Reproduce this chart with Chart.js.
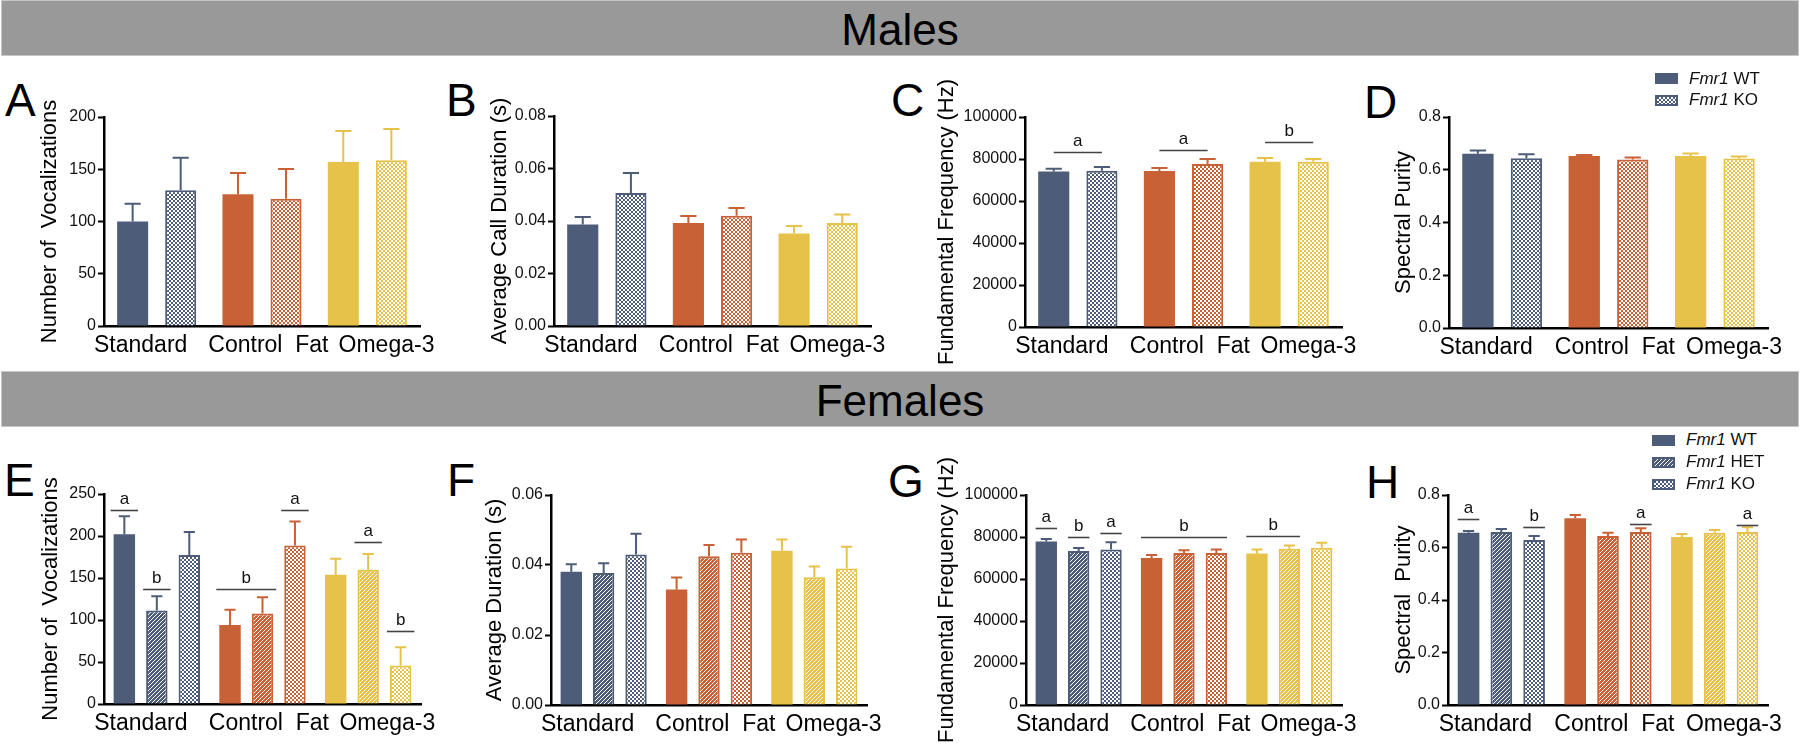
<!DOCTYPE html>
<html>
<head>
<meta charset="utf-8">
<script src="https://cdn.jsdelivr.net/npm/chart.js@4.4.1/dist/chart.umd.min.js"></script>
<style>
  body { margin: 0; background: #fff; font-family: "Liberation Sans", Arial, sans-serif; }
  #fig { position: relative; width: 1800px; height: 744px; overflow: hidden; background: #fff; }
  .banner { position: absolute; left: 1px; width: 1796px; height: 54px; background: #999;
            border: 1px solid #c6c6c6; text-align: center; font-size: 44px; line-height: 58px; color: #000; }
  .letter { position: absolute; font-size: 46px; line-height: 46px; color: #000; }
  canvas.panel { position: absolute; }
  .leg { position: absolute; font-size: 17px; line-height: 20px; color: #111; white-space: nowrap; }
  .sw { position: absolute; }
</style>
</head>
<body>
<div id="fig">
  <div class="banner" style="top:0">Males</div>
  <div class="banner" style="top:371px">Females</div>
  <div class="letter" style="left:5px;top:77px">A</div>
  <div class="letter" style="left:446px;top:77px">B</div>
  <div class="letter" style="left:891px;top:77px">C</div>
  <div class="letter" style="left:1364px;top:79px">D</div>
  <div class="letter" style="left:4px;top:457px">E</div>
  <div class="letter" style="left:447px;top:457px">F</div>
  <div class="letter" style="left:888px;top:458px">G</div>
  <div class="letter" style="left:1366px;top:459px">H</div>
</div>
<script>
const diets = ['Standard', 'Control  Fat', 'Omega-3'];

// Males, Fmr1 WT and KO: mean and SEM for each diet
const mVocWT = [100, 126, 157],          mVocWTSem = [17, 20.5, 29.6];
const mVocKO = [130, 121.7, 158.6],      mVocKOSem = [31, 28.6, 29.9];
const mDurWT = [0.0387, 0.0392, 0.0352], mDurWTSem = [0.0028, 0.0027, 0.0029];
const mDurKO = [0.0507, 0.0420, 0.0392], mDurKOSem = [0.0076, 0.0030, 0.0033];
const mFreqWT = [74000, 74300, 78700],   mFreqWTSem = [1400, 1400, 1800];
const mFreqKO = [74400, 77600, 78700],   mFreqKOSem = [1800, 2400, 1300];
const mPurWT = [0.6605, 0.652, 0.652],   mPurWTSem = [0.0125, 0.004, 0.010];
const mPurKO = [0.644, 0.639, 0.643],    mPurKOSem = [0.015, 0.0076, 0.007];

// Females, Fmr1 WT, HET and KO
const fVocWT = [202, 94, 154],           fVocWTSem = [21.4, 18.1, 19];
const fVocHET = [111.3, 107.7, 159.8],   fVocHETSem = [17.1, 19.5, 18.7];
const fVocKO = [177.3, 188.8, 45.7],     fVocKOSem = [27.4, 28.6, 21.9];
const fDurWT = [0.0381, 0.0330, 0.0441], fDurWTSem = [0.0021, 0.0034, 0.0032];
const fDurHET = [0.0377, 0.0425, 0.0365], fDurHETSem = [0.0028, 0.0032, 0.0031];
const fDurKO = [0.0430, 0.0435, 0.0390], fDurKOSem = [0.0059, 0.0038, 0.0062];
const fFreqWT = [77800, 70000, 72100],   fFreqWTSem = [1200, 1400, 1900];
const fFreqHET = [73300, 72400, 74400],  fFreqHETSem = [1500, 1300, 1600];
const fFreqKO = [74100, 72400, 74900],   fFreqKOSem = [3400, 1600, 2400];
const fPurWT = [0.6565, 0.7111, 0.640],  fPurWTSem = [0.0065, 0.0127, 0.0114];
const fPurHET = [0.659, 0.6438, 0.6565], fPurHETSem = [0.0115, 0.0127, 0.0102];
const fPurKO = [0.6286, 0.659, 0.659],   fPurKOSem = [0.0152, 0.014, 0.0178];

// significance letters: [diet, first genotype, last genotype, height, letter]
const mFreqSig = [[0, 0, 1, 83300, 'a'], [1, 0, 1, 84300, 'a'], [2, 0, 1, 88100, 'b']];
const fVocSig = [[0, 0, 0, 230.5, 'a'], [0, 1, 1, 137, 'b'], [1, 0, 1, 137, 'b'],
                 [1, 2, 2, 230.5, 'a'], [2, 1, 1, 193, 'a'], [2, 2, 2, 87.4, 'b']];
const fFreqSig = [[0, 0, 0, 84100, 'a'], [0, 1, 1, 80000, 'b'], [0, 2, 2, 81700, 'a'],
                  [1, 0, 2, 80000, 'b'], [2, 0, 1, 80600, 'b']];
const fPurSig = [[0, 0, 0, 0.7098, 'a'], [0, 2, 2, 0.6768, 'b'], [1, 2, 2, 0.6883, 'a'], [2, 2, 2, 0.6857, 'a']];

const dietColors = ['#4d5c78', '#c96136', '#e7c24a'];
// the diet names sit a little spread out from the bar groups: leading / trailing spaces
const labelNudge = [[0, 5], [2, 0], [6, 0]];

Chart.defaults.font.family = '"Liberation Sans", Arial, sans-serif';
Chart.defaults.color = '#111';

function checker(color) {
    const c = document.createElement('canvas');
    c.width = c.height = 4;
    const g = c.getContext('2d');
    g.fillStyle = '#fff';
    g.fillRect(0, 0, 4, 4);
    g.fillStyle = color;
    g.fillRect(0, 0, 2, 2);
    g.fillRect(2, 2, 2, 2);
    return g.createPattern(c, 'repeat');
}

function hatch(color) {
    const c = document.createElement('canvas');
    c.width = c.height = 4;
    const g = c.getContext('2d');
    g.fillStyle = color;
    g.fillRect(0, 0, 4, 4);
    g.strokeStyle = '#fff';
    g.lineWidth = 1;
    g.beginPath();
    g.moveTo(0, 4); g.lineTo(4, 0);
    g.moveTo(-1, 1); g.lineTo(1, -1);
    g.moveTo(3, 5); g.lineTo(5, 3);
    g.stroke();
    return g.createPattern(c, 'repeat');
}

function series(data, sem, kind) {
    return {
        data: data,
        sem: sem,
        backgroundColor: dietColors.map(c => kind === 'WT' ? c : kind === 'HET' ? hatch(c) : checker(c)),
        borderColor: dietColors,
        borderWidth: kind === 'WT' ? 0 : 2
    };
}

// error bars (upper whisker only) and significance letters
const extras = {
    id: 'extras',
    afterDatasetsDraw(chart, args, opts) {
        const ctx = chart.ctx;
        const y = chart.scales.y;
        ctx.save();
        chart.data.datasets.forEach((ds, i) => {
            chart.getDatasetMeta(i).data.forEach((bar, j) => {
                const top = y.getPixelForValue(ds.data[j] + ds.sem[j]);
                const cap = bar.width * 0.26;
                ctx.strokeStyle = dietColors[j];
                ctx.lineWidth = 2;
                ctx.beginPath();
                ctx.moveTo(bar.x, bar.y);
                ctx.lineTo(bar.x, top);
                ctx.moveTo(bar.x - cap, top);
                ctx.lineTo(bar.x + cap, top);
                ctx.stroke();
            });
        });
        (opts.sig || []).forEach(([cat, a, b, val, txt]) => {
            const b1 = chart.getDatasetMeta(a).data[cat];
            const b2 = chart.getDatasetMeta(b).data[cat];
            const x1 = opts.fromCenter ? b1.x : b1.x - b1.width / 2 - opts.ext;
            const x2 = opts.fromCenter ? b2.x : b2.x + b2.width / 2 + opts.ext;
            const py = Math.round(y.getPixelForValue(val)) + 0.5;
            ctx.strokeStyle = '#444';
            ctx.lineWidth = 1.6;
            ctx.beginPath();
            ctx.moveTo(x1, py);
            ctx.lineTo(x2, py);
            ctx.stroke();
            ctx.fillStyle = '#111';
            ctx.font = '17px "Liberation Sans", Arial, sans-serif';
            ctx.textAlign = 'center';
            ctx.textBaseline = 'alphabetic';
            ctx.fillText(txt, (x1 + x2) / 2, py - 7);
        });
        ctx.restore();
    }
};

const fig = document.getElementById('fig');
const PAD_RIGHT = 30;

function panel(p) {
    const box = p.box;
    const cv = document.createElement('canvas');
    cv.className = 'panel';
    const left = Math.round(box.titleX - 13);
    const top = box.top - 45;
    cv.width = box.right - left + PAD_RIGHT;
    cv.height = 45 + (box.bottom - box.top) + 46;
    cv.style.left = left + 'px';
    cv.style.top = top + 'px';
    fig.appendChild(cv);
    const yWidth = box.left - left;
    const three = p.datasets.length === 3;

    new Chart(cv.getContext('2d'), {
        type: 'bar',
        data: { labels: diets, datasets: p.datasets },
        plugins: [extras],
        options: {
            responsive: false,
            animation: false,
            events: [],
            layout: { padding: { left: 0, top: 45, right: PAD_RIGHT, bottom: 0 } },
            datasets: {
                bar: {
                    categoryPercentage: three ? 0.922 : 0.912,
                    barPercentage: three ? 0.66 : 0.646
                }
            },
            plugins: {
                legend: { display: false },
                tooltip: { enabled: false },
                extras: { sig: p.sig, ext: p.ext || 0, fromCenter: !!p.fromCenter }
            },
            scales: {
                x: {
                    grid: { display: false, drawTicks: false },
                    border: { color: '#000', width: 2.5 },
                    ticks: {
                        color: '#000', font: { size: 23 }, padding: 6,
                        autoSkip: false, maxRotation: 0, minRotation: 0,
                        callback: (v, i) => ' '.repeat(labelNudge[i][0]) + diets[i] + ' '.repeat(labelNudge[i][1])
                    },
                    afterFit: s => { s.height = 46; }
                },
                y: {
                    min: 0,
                    max: p.yMax,
                    grid: { drawOnChartArea: false, drawTicks: true, tickLength: 6, tickWidth: 2, tickColor: '#000' },
                    border: { color: '#000', width: 2.5 },
                    ticks: {
                        stepSize: p.yStep, color: '#111', font: { size: 16 }, padding: 2,
                        callback: v => v.toFixed(p.decimals)
                    },
                    title: {
                        display: true, text: p.title, color: '#000',
                        font: { size: 22 }, padding: { top: 0, bottom: 0 }
                    },
                    afterFit: s => { s.width = yWidth; }
                }
            }
        }
    });
}

panel({
    box: { left: 104, right: 420, top: 117, bottom: 326, titleX: 50 },
    datasets: [series(mVocWT, mVocWTSem, 'WT'), series(mVocKO, mVocKOSem, 'KO')],
    yMax: 200, yStep: 50, decimals: 0, title: 'Number of  Vocalizations'
});
panel({
    box: { left: 554, right: 871, top: 116, bottom: 326, titleX: 500 },
    datasets: [series(mDurWT, mDurWTSem, 'WT'), series(mDurKO, mDurKOSem, 'KO')],
    yMax: 0.08, yStep: 0.02, decimals: 2, title: 'Average Call Duration (s)'
});
panel({
    box: { left: 1025, right: 1342, top: 117, bottom: 327, titleX: 947 },
    datasets: [series(mFreqWT, mFreqWTSem, 'WT'), series(mFreqKO, mFreqKOSem, 'KO')],
    yMax: 100000, yStep: 20000, decimals: 0, title: 'Fundamental Frequency (Hz)',
    sig: mFreqSig, fromCenter: true
});
panel({
    box: { left: 1449, right: 1768, top: 117, bottom: 328, titleX: 1404 },
    datasets: [series(mPurWT, mPurWTSem, 'WT'), series(mPurKO, mPurKOSem, 'KO')],
    yMax: 0.8, yStep: 0.2, decimals: 1, title: 'Spectral Purity'
});
panel({
    box: { left: 104, right: 421, top: 494, bottom: 704, titleX: 51 },
    datasets: [series(fVocWT, fVocWTSem, 'WT'), series(fVocHET, fVocHETSem, 'HET'), series(fVocKO, fVocKOSem, 'KO')],
    yMax: 250, yStep: 50, decimals: 0, title: 'Number of  Vocalizations',
    sig: fVocSig, ext: 3
});
panel({
    box: { left: 551, right: 867, top: 495, bottom: 705, titleX: 495 },
    datasets: [series(fDurWT, fDurWTSem, 'WT'), series(fDurHET, fDurHETSem, 'HET'), series(fDurKO, fDurKOSem, 'KO')],
    yMax: 0.06, yStep: 0.02, decimals: 2, title: 'Average Duration (s)'
});
panel({
    box: { left: 1026, right: 1342, top: 495, bottom: 705, titleX: 947 },
    datasets: [series(fFreqWT, fFreqWTSem, 'WT'), series(fFreqHET, fFreqHETSem, 'HET'), series(fFreqKO, fFreqKOSem, 'KO')],
    yMax: 100000, yStep: 20000, decimals: 0, title: 'Fundamental Frequency (Hz)',
    sig: fFreqSig, ext: 0
});
panel({
    box: { left: 1448, right: 1768, top: 495, bottom: 705, titleX: 1404 },
    datasets: [series(fPurWT, fPurWTSem, 'WT'), series(fPurHET, fPurHETSem, 'HET'), series(fPurKO, fPurKOSem, 'KO')],
    yMax: 0.8, yStep: 0.2, decimals: 1, title: 'Spectral  Purity',
    sig: fPurSig, ext: 0
});

// legends
function legend(x, rows) {
    rows.forEach(([cy, kind, name]) => {
        const sw = document.createElement('canvas');
        sw.className = 'sw';
        sw.width = 23; sw.height = 11;
        sw.style.left = x + 'px';
        sw.style.top = Math.round(cy - 5.5) + 'px';
        const g = sw.getContext('2d');
        g.fillStyle = kind === 'WT' ? dietColors[0] : kind === 'HET' ? hatch(dietColors[0]) : checker(dietColors[0]);
        g.fillRect(0, 0, 23, 11);
        if (kind !== 'WT') {
            g.strokeStyle = dietColors[0];
            g.lineWidth = 2;
            g.strokeRect(1, 1, 21, 9);
        }
        fig.appendChild(sw);
        const t = document.createElement('div');
        t.className = 'leg';
        t.style.left = (x + 34) + 'px';
        t.style.top = Math.round(cy - 10) + 'px';
        t.innerHTML = '<i>Fmr1</i> ' + name;
        fig.appendChild(t);
    });
}
legend(1655, [[78.5, 'WT', 'WT'], [100, 'KO', 'KO']]);
legend(1652, [[440, 'WT', 'WT'], [462, 'HET', 'HET'], [484, 'KO', 'KO']]);
</script>
</body>
</html>
